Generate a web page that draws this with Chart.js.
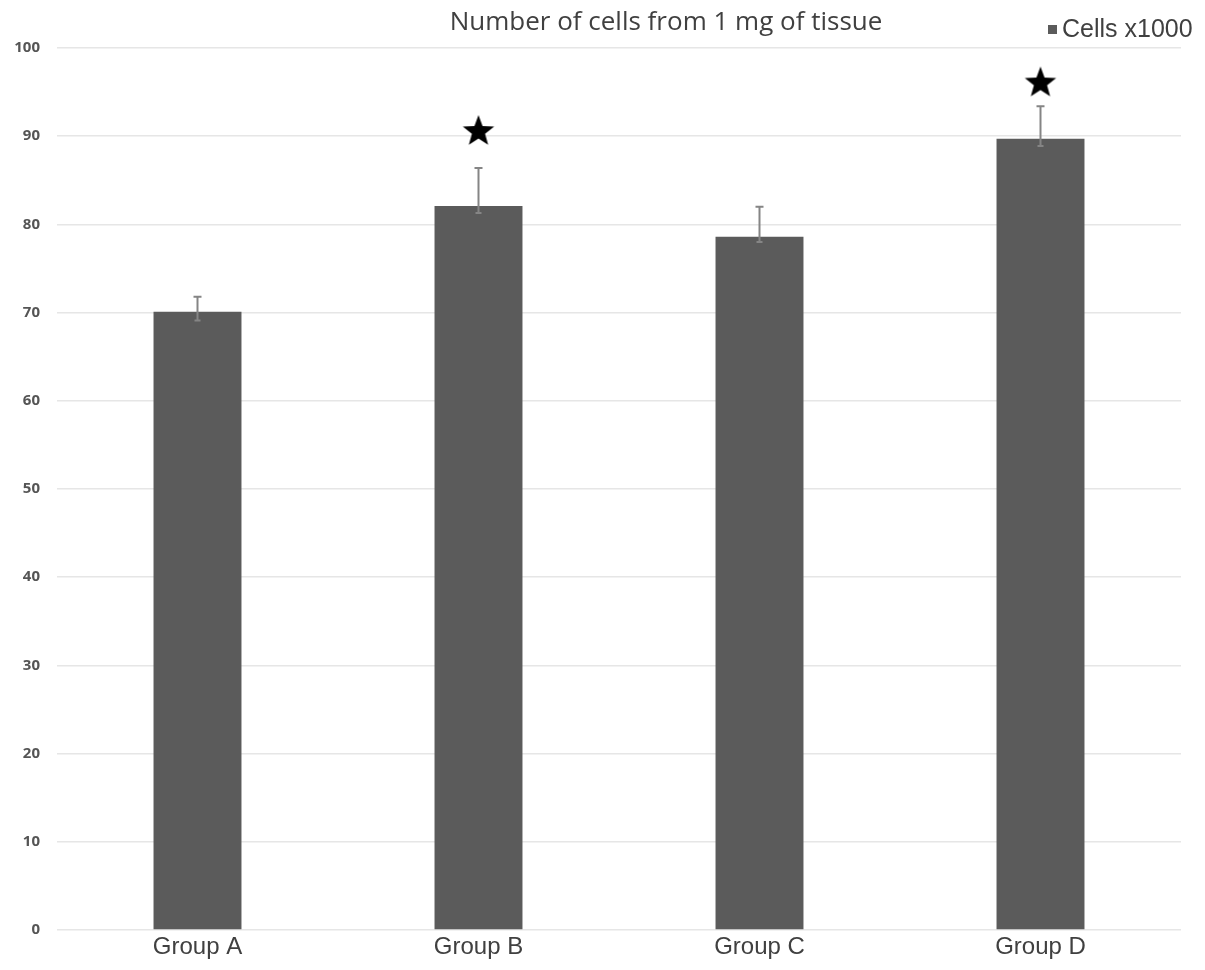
<!DOCTYPE html>
<html>
<head>
<meta charset="utf-8">
<script src="https://cdn.jsdelivr.net/npm/chart.js@4/dist/chart.umd.min.js"></script>
<style>
  html, body { margin: 0; padding: 0; background: #fff; }
  #wrap { width: 1205px; height: 970px; }
</style>
</head>
<body>
<div id="wrap"><canvas id="cellsChart" width="1205" height="970"></canvas></div>
<script>
// values
const groups = ['Group A', 'Group B', 'Group C', 'Group D'];
const cells = [70.1, 82.1, 78.6, 89.7];
const errUp = [1.7, 4.3, 3.4, 3.7];
const errDown = [1.0, 0.8, 0.6, 0.8];
const stars = [null, 90.7, null, 96.2];
const seriesName = 'Cells x1000';

const barColor = '#5b5b5b';

// filled five point star used as point style
function makeStar(size) {
    const c = document.createElement('canvas');
    c.width = size; c.height = size;
    const g = c.getContext('2d');
    const cx = size / 2, cy = size / 2 + 1.5, R = size / 2 - 0.5, r = R * 0.42;
    g.beginPath();
    for (let k = 0; k < 10; k++) {
        const rad = k % 2 === 0 ? R : r;
        const a = -Math.PI / 2 + k * Math.PI / 5;
        g.lineTo(cx + rad * Math.cos(a), cy + rad * Math.sin(a));
    }
    g.closePath();
    g.fillStyle = '#000';
    g.fill();
    return c;
}
const starImg = makeStar(34);

// error bars on top of the columns
const errorBars = {
    id: 'errorBars',
    afterDatasetsDraw(chart) {
        const meta = chart.getDatasetMeta(0);
        const y = chart.scales.y;
        const ctx = chart.ctx;
        ctx.save();
        ctx.strokeStyle = '#858585';
        ctx.lineWidth = 2;
        meta.data.forEach((bar, i) => {
            const top = y.getPixelForValue(cells[i] + errUp[i]);
            const low = y.getPixelForValue(cells[i] - errDown[i]);
            ctx.beginPath();
            ctx.moveTo(bar.x, low); ctx.lineTo(bar.x, top);
            ctx.moveTo(bar.x - 4, top); ctx.lineTo(bar.x + 4, top);
            ctx.moveTo(bar.x - 3, low); ctx.lineTo(bar.x + 3, low);
            ctx.stroke();
        });
        ctx.restore();
    }
};

// title (a bit right of centre) and the small legend in the top right corner
const headerText = {
    id: 'headerText',
    afterDraw(chart) {
        const ctx = chart.ctx;
        ctx.save();
        ctx.font = '26px "Open Sans"';
        ctx.fillStyle = '#404040';
        ctx.textAlign = 'center';
        ctx.textBaseline = 'middle';
        ctx.fillText('Number of cells from 1 mg of tissue', 666, 23);

        ctx.fillStyle = barColor;
        ctx.fillRect(1048, 25, 9, 9);
        ctx.fillStyle = '#404040';
        ctx.font = '25px "Liberation Sans", Arial';
        ctx.textAlign = 'left';
        ctx.fillText(chart.data.datasets[0].label, 1062, 30);
        ctx.restore();
    }
};

new Chart(document.getElementById('cellsChart'), {
    data: {
        labels: groups,
        datasets: [
            {
                type: 'bar',
                label: seriesName,
                data: cells,
                backgroundColor: barColor,
                borderWidth: 0,
                categoryPercentage: 1,
                barPercentage: 0.313,
                order: 2
            },
            {
                type: 'line',
                label: 'significant',
                data: stars,
                showLine: false,
                pointStyle: starImg,
                order: 1
            }
        ]
    },
    options: {
        responsive: false,
        animation: false,
        devicePixelRatio: 1,
        layout: { padding: { top: 48, right: 24, left: 0, bottom: 0 } },
        plugins: {
            legend: { display: false },
            title: { display: false },
            tooltip: { enabled: false }
        },
        scales: {
            x: {
                grid: { display: false },
                border: { display: false },
                ticks: {
                    color: '#404040',
                    padding: -5,
                    font: { family: '"Liberation Sans", Arial', size: 24 }
                },
                afterFit: s => { s.height = 40; }
            },
            y: {
                min: 0,
                max: 100,
                grid: { color: '#e6e6e6', lineWidth: 1.5, drawTicks: false },
                border: { display: false },
                ticks: {
                    stepSize: 10,
                    padding: 17,
                    color: '#555555',
                    font: { family: '"Open Sans"', size: 15, weight: 'bold' }
                },
                afterFit: s => { s.width = 57; }
            }
        }
    },
    plugins: [errorBars, headerText]
});
</script>
</body>
</html>
